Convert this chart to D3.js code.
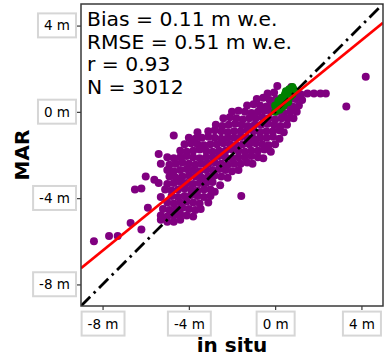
<!DOCTYPE html>
<html>
<head>
<meta charset="utf-8">
<script src="https://cdn.jsdelivr.net/npm/d3@7"></script>
<style>
  body { margin: 0; background: #fff; }
  text { font-family: "DejaVu Sans", sans-serif; }
</style>
</head>
<body>
<div id="chart"></div>
<script>
// stats shown in the corner
const statLines = ["Bias = 0.11 m w.e.", "RMSE = 0.51 m w.e.", "r = 0.93", "N = 3012"];
const tickValues = [-8, -4, 0, 4];
const axisDomain = [-9, 5];

// regression line (red): y = slope * x + intercept
const fitSlope = 0.813;
const fitIntercept = 0.067;

// purple points (in situ, MAR), row by row
const purplePoints = [
  [0.1, 1.2], [0.75, 1.15],
  [-0.35, 0.85], [-0.05, 0.9], [0.9, 0.85], [1.2, 0.8], [1.5, 0.85], [1.8, 0.85], [2.1, 0.85], [2.35, 0.85],
  [-0.85, 0.6], [-0.55, 0.65], [-0.25, 0.55], [0.05, 0.6], [0.35, 0.6], [0.65, 0.55], [0.95, 0.6], [1.25, 0.55],
  [-1.3, 0.3], [-1.0, 0.35], [-0.7, 0.3], [-0.4, 0.25], [-0.1, 0.3], [0.2, 0.3], [0.5, 0.3], [0.8, 0.25], [1.1, 0.3],
  [-2.0, 0.0], [-1.7, 0.05], [-1.4, 0.0], [-1.1, -0.05], [-0.8, 0.0], [-0.5, 0.05], [-0.2, 0.0], [0.1, 0.0], [0.4, -0.05], [0.7, 0.0], [1.0, 0.0],
  [-2.4, -0.3], [-2.1, -0.25], [-1.8, -0.3], [-1.5, -0.35], [-1.2, -0.3], [-0.9, -0.3], [-0.6, -0.25], [-0.3, -0.3], [0.0, -0.35], [0.3, -0.3], [0.6, -0.3], [0.85, -0.3],
  [-2.75, -0.6], [-2.45, -0.65], [-2.15, -0.6], [-1.85, -0.55], [-1.55, -0.6], [-1.25, -0.65], [-0.95, -0.6], [-0.65, -0.6], [-0.35, -0.55], [-0.05, -0.6], [0.25, -0.65], [0.55, -0.6],
  [-3.6, -0.95], [-3.1, -0.9], [-2.8, -0.85], [-2.5, -0.9], [-2.2, -0.95], [-1.9, -0.9], [-1.6, -0.9], [-1.3, -0.85], [-1.0, -0.9], [-0.7, -0.95], [-0.4, -0.9], [-0.1, -0.9], [0.2, -0.85], [0.4, -0.95],
  [-4.7, -1.1],
  [-4.0, -1.2], [-3.7, -1.25], [-3.4, -1.2], [-3.1, -1.15], [-2.8, -1.2], [-2.5, -1.25], [-2.2, -1.2], [-1.9, -1.2], [-1.6, -1.15], [-1.3, -1.2], [-1.0, -1.25], [-0.7, -1.2], [-0.4, -1.2], [-0.1, -1.15], [0.2, -1.25],
  [-4.2, -1.5], [-3.9, -1.45], [-3.6, -1.5], [-3.3, -1.55], [-3.0, -1.5], [-2.7, -1.5], [-2.4, -1.45], [-2.1, -1.5], [-1.8, -1.55], [-1.5, -1.5], [-1.2, -1.5], [-0.9, -1.45], [-0.6, -1.5], [-0.3, -1.55], [0.0, -1.5],
  [-5.4, -1.95], [-4.4, -1.8], [-4.1, -1.85], [-3.8, -1.8], [-3.5, -1.75], [-3.2, -1.8], [-2.9, -1.85], [-2.6, -1.8], [-2.3, -1.8], [-2.0, -1.75], [-1.7, -1.8], [-1.4, -1.85], [-1.1, -1.8], [-0.8, -1.8], [-0.5, -1.75], [-0.2, -1.85],
  [-5.0, -2.1], [-4.7, -2.15], [-4.4, -2.1], [-4.1, -2.05], [-3.8, -2.1], [-3.5, -2.15], [-3.2, -2.1], [-2.9, -2.1], [-2.6, -2.05], [-2.3, -2.1], [-2.0, -2.15], [-1.7, -2.1], [-1.4, -2.1], [-1.1, -2.05], [-0.8, -2.1], [-0.55, -2.15],
  [-5.3, -2.4], [-4.9, -2.45], [-4.6, -2.4], [-4.3, -2.35], [-4.0, -2.4], [-3.7, -2.45], [-3.4, -2.4], [-3.1, -2.4], [-2.8, -2.35], [-2.5, -2.4], [-2.2, -2.45], [-1.9, -2.4], [-1.6, -2.4], [-1.3, -2.35], [-1.05, -2.4],
  [-5.0, -2.7], [-4.7, -2.75], [-4.4, -2.7], [-4.1, -2.65], [-3.8, -2.7], [-3.5, -2.75], [-3.2, -2.7], [-2.9, -2.7], [-2.6, -2.65], [-2.3, -2.7], [-2.0, -2.75], [-1.7, -2.7],
  [-6.0, -3.0], [-5.6, -3.15], [-4.9, -3.0], [-4.6, -3.05], [-4.3, -3.0], [-4.0, -2.95], [-3.7, -3.0], [-3.4, -3.05], [-3.1, -3.0], [-2.8, -2.95], [-2.5, -3.0], [-2.2, -3.05],
  [-5.4, -3.3], [-5.0, -3.35], [-4.7, -3.3], [-4.4, -3.25], [-4.1, -3.3], [-3.8, -3.35], [-3.5, -3.3], [-3.2, -3.3], [-2.9, -3.25], [-2.55, -3.4],
  [-6.5, -3.6], [-6.2, -3.55], [-5.1, -3.6], [-4.8, -3.65], [-4.5, -3.6], [-4.2, -3.55], [-3.9, -3.6], [-3.6, -3.65], [-3.3, -3.6], [-3.0, -3.6], [-2.8, -3.7],
  [-5.3, -3.95], [-4.8, -3.9], [-4.5, -3.95], [-4.2, -3.9], [-3.9, -3.85], [-3.6, -3.9], [-3.3, -3.95], [-3.0, -3.9], [-1.57, -3.9],
  [-5.0, -4.2], [-4.7, -4.25], [-4.4, -4.2], [-4.1, -4.15], [-3.8, -4.2], [-3.5, -4.25], [-3.1, -4.2],
  [-5.9, -4.45], [-5.2, -4.5], [-4.9, -4.55], [-4.6, -4.5], [-4.3, -4.45], [-4.0, -4.5], [-3.7, -4.55], [-3.45, -4.5],
  [-5.3, -4.8], [-5.0, -4.85], [-4.7, -4.8], [-4.4, -4.75], [-4.1, -4.8], [-3.8, -4.85],
  [-6.7, -5.15], [-5.3, -5.0], [-5.0, -5.1], [-4.7, -5.1], [-4.4, -5.0],
  [-6.2, -5.45],
  [-7.7, -5.75], [-7.3, -5.75],
  [-8.4, -6.0],
  [3.3, 0.25], [4.2, 1.63]
];

// green points (subset) near the 1:1 line
const greenPoints = [
  [0.0, 0.0], [0.1, 0.2], [0.2, 0.35], [0.35, 0.5], [0.5, 0.65], [0.6, 0.8], [0.75, 0.95], [0.85, 1.05],
  [0.2, 0.1], [0.4, 0.3], [0.55, 0.5], [0.7, 0.7], [0.0, 0.3], [0.3, 0.65], [0.5, 0.95], [0.8, 1.15],
  [0.15, 0.5], [0.45, 0.8], [0.65, 1.05], [0.3, 0.2], [0.6, 0.45], [0.8, 0.8], [0.9, 0.95]
];

const width = 385, height = 356;
const plot = { left: 81, top: 4, right: 383, bottom: 306 };

const svg = d3.select("#chart").append("svg")
  .attr("width", width)
  .attr("height", height);

const x = d3.scaleLinear().domain(axisDomain).range([plot.left, plot.right]);
const y = d3.scaleLinear().domain(axisDomain).range([plot.bottom, plot.top]);

svg.append("clipPath").attr("id", "clip")
  .append("rect")
  .attr("x", plot.left).attr("y", plot.top)
  .attr("width", plot.right - plot.left).attr("height", plot.bottom - plot.top);

const inner = svg.append("g").attr("clip-path", "url(#clip)");

inner.selectAll(".pp").data(purplePoints).enter().append("circle")
  .attr("cx", d => x(d[0])).attr("cy", d => y(d[1]))
  .attr("r", 4).attr("fill", "#800080");

inner.selectAll(".gp").data(greenPoints).enter().append("circle")
  .attr("cx", d => x(d[0])).attr("cy", d => y(d[1]))
  .attr("r", 4).attr("fill", "#008000");

// 1:1 line
inner.append("line")
  .attr("x1", x(axisDomain[0])).attr("y1", y(axisDomain[0]))
  .attr("x2", x(axisDomain[1])).attr("y2", y(axisDomain[1]))
  .attr("stroke", "#000").attr("stroke-width", 2.8)
  .attr("stroke-dasharray", "13,5,2.5,5");

// regression
inner.append("line")
  .attr("x1", x(axisDomain[0])).attr("y1", y(fitSlope * axisDomain[0] + fitIntercept))
  .attr("x2", x(axisDomain[1])).attr("y2", y(fitSlope * axisDomain[1] + fitIntercept))
  .attr("stroke", "#ff0000").attr("stroke-width", 2.7);

// frame
svg.append("rect")
  .attr("x", plot.left).attr("y", plot.top)
  .attr("width", plot.right - plot.left).attr("height", plot.bottom - plot.top)
  .attr("fill", "none").attr("stroke", "#3a3a3a").attr("stroke-width", 1.5);

const fmt = d => d + " m";

const yAxis = svg.append("g")
  .attr("transform", `translate(${plot.left},0)`)
  .call(d3.axisLeft(y).tickValues(tickValues).tickFormat(fmt).tickSize(4).tickPadding(7));

const xAxis = svg.append("g")
  .attr("transform", `translate(0,${plot.bottom})`)
  .call(d3.axisBottom(x).tickValues(tickValues).tickFormat(fmt).tickSize(4).tickPadding(9));

[yAxis, xAxis].forEach(ax => {
  ax.select(".domain").remove();
  ax.selectAll("line").attr("stroke", "#3a3a3a").attr("stroke-width", 1.2);
  ax.selectAll("text")
    .attr("font-family", "DejaVu Sans")
    .attr("font-size", 13.5)
    .attr("fill", "#000");
  // boxes behind tick labels
  ax.selectAll(".tick").each(function () {
    const t = d3.select(this).select("text");
    const b = t.node().getBBox();
    d3.select(this).insert("rect", "text")
      .attr("x", b.x - 6).attr("y", b.y - 4)
      .attr("width", b.width + 12).attr("height", b.height + 8)
      .attr("fill", "#fff").attr("stroke", "#d6d6d6").attr("stroke-width", 2);
  });
});

// stats text
svg.append("g").selectAll("text").data(statLines).enter().append("text")
  .attr("x", 87)
  .attr("y", (d, i) => 26 + i * 22.7)
  .attr("font-size", 20.3)
  .attr("fill", "#000")
  .text(d => d);

// axis titles
svg.append("text")
  .attr("x", (plot.left + plot.right) / 2)
  .attr("y", 352)
  .attr("text-anchor", "middle")
  .attr("font-size", 20).attr("font-weight", "bold")
  .text("in situ");

svg.append("text")
  .attr("transform", `translate(29,${(plot.top + plot.bottom) / 2}) rotate(-90)`)
  .attr("text-anchor", "middle")
  .attr("font-size", 20).attr("font-weight", "bold")
  .text("MAR");
</script>
</body>
</html>
